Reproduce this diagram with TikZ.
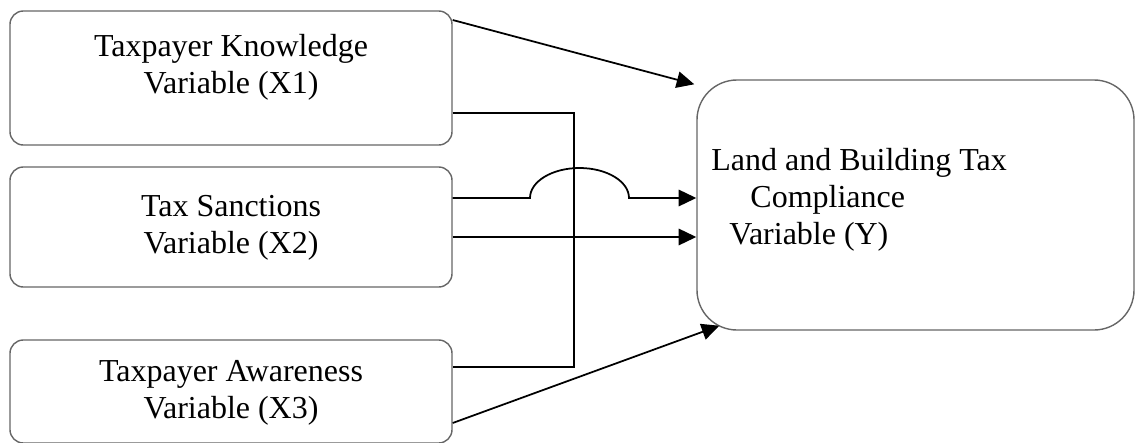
\documentclass[tikz,border=0pt]{standalone}
\usepackage{fontspec}
\setmainfont{Liberation Serif}
\usetikzlibrary{arrows.meta,calc}
\begin{document}
\begin{tikzpicture}[x=0.03cm,y=-0.03cm,
  box/.style={draw=black!60,line width=1.2pt,rounded corners=0.4cm,minimum width=13.26cm},
  lbl/.style={align=center,font=\fontsize{27.3}{31.5}\selectfont},
  wire/.style={line width=1.5pt},
  arr/.style={wire,-{Triangle[length=15pt,width=14pt]}}]
\useasboundingbox (0,0) rectangle (1135,442);

\node[box,minimum height=4.02cm] (x1) at (231,78) {};
\node[box,minimum height=3.6cm] (x2) at (231,227) {};
\node[box,minimum height=3.09cm] (x3) at (231,391.5) {};
\node[box,rounded corners=1.2cm,minimum width=13.11cm,minimum height=7.5cm] (y) at (915.5,205) {};

\node[lbl] (x1text) at ($(x1)+(0,-11)$) {Taxpayer Knowledge\\Variable (X1)};
\node[lbl] (x2text) at ($(x2)+(0,0.5)$) {Tax Sanctions\\Variable (X2)};
\node[lbl] (x3text) at ($(x3)+(0,1)$) {Taxpayer Awareness\\Variable (X3)};
\node[lbl,align=left,anchor=west] (ytext) at ($(y.west)+(11,-5)$) {Land and Building Tax\\\hspace*{1.17cm}Compliance\\\hspace*{0.54cm}Variable (Y)};

\coordinate (bend) at (574,367);
\coordinate (hop) at (530,198);

\draw[arr] ($(x1.east)+(0,-58)$) -- ($(y.north west)+(-2,5)$);
\draw[wire] ($(x1.east)+(0,35)$) -| (bend) -- ($(x3.east)+(0,-24.5)$);
\draw[arr] ($(x2.east)+(0,-29)$) -- (hop) arc[start angle=180,end angle=0,x radius=1.485cm,y radius=0.9cm] -- ($(y.west)+(0,-7)$);
\draw[arr] ($(x2.east)+(0,10)$) -- ($(y.west)+(0,32)$);
\draw[arr] ($(x3.east)+(0,31.5)$) -- ($(y.south west)+(23,-5)$);

\end{tikzpicture}
\end{document}
